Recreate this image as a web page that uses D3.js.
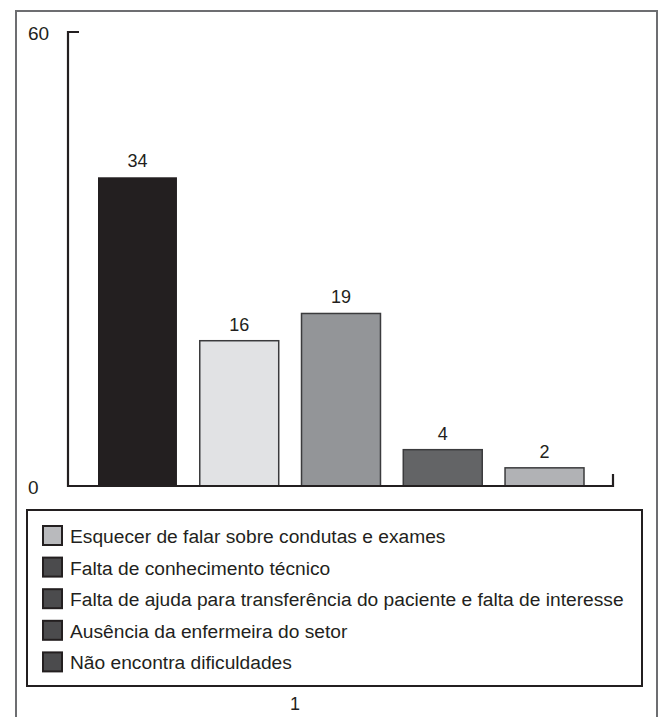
<!DOCTYPE html>
<html>
<head>
<meta charset="utf-8">
<script src="https://cdn.jsdelivr.net/npm/d3@7"></script>
<style>
  html, body { margin: 0; padding: 0; background: #fff; }
  svg { display: block; font-family: "Liberation Sans", Arial, Helvetica, sans-serif; }
</style>
</head>
<body>
<svg id="chart" width="660" height="717"></svg>
<script>
// Difficulties reported (counts)
const categories = [
  "Esquecer de falar sobre condutas e exames",
  "Falta de conhecimento técnico",
  "Falta de ajuda para transferência do paciente e falta de interesse",
  "Ausência da enfermeira do setor",
  "Não encontra dificuldades"
];
const values = [34, 16, 19, 4, 2];
const barColors = ["#231f20", "#e1e2e4", "#939598", "#636466", "#b1b2b5"];
const legendColors = ["#b9babd", "#4b4b4d", "#4b4b4d", "#4b4b4d", "#4b4b4d"];
const yTickLabels = ["0", "60"];
const xTickLabels = ["1"];
const axisMax = 50;

const svg = d3.select("#chart");
const ink = "#231f20";

// Outer frame (open at the bottom)
svg.append("path")
  .attr("d", "M16,717 V11 H657 V717")
  .attr("fill", "none")
  .attr("stroke", "#6d6e71")
  .attr("stroke-width", 2);

const x = d3.scaleBand()
  .domain(categories)
  .range([98, 584])
  .paddingInner(0.224)
  .paddingOuter(0);

const y = d3.scaleLinear()
  .domain([0, axisMax])
  .range([486, 32]);

// Bars
svg.append("g").selectAll("rect")
  .data(values)
  .join("rect")
  .attr("x", (d, i) => x(categories[i]))
  .attr("y", d => y(d))
  .attr("width", x.bandwidth())
  .attr("height", d => y(0) - y(d))
  .attr("fill", (d, i) => barColors[i])
  .attr("stroke", (d, i) => i === 0 ? "none" : "#3b3b3d")
  .attr("stroke-width", 1.5);

// Value labels
svg.append("g").selectAll("text")
  .data(values)
  .join("text")
  .attr("x", (d, i) => x(categories[i]) + x.bandwidth() / 2)
  .attr("y", d => y(d) - 10)
  .attr("text-anchor", "middle")
  .attr("font-size", 18)
  .attr("fill", ink)
  .text(d => d);

// Axes: vertical axis with inward top tick, baseline with upward end tick
const x0 = 68, x1 = 613;
svg.append("path")
  .attr("d", `M${x0 + 11},${y(axisMax)} H${x0} V${y(0)} H${x1} V${y(0) - 12}`)
  .attr("fill", "none")
  .attr("stroke", ink)
  .attr("stroke-width", 2.2);

svg.append("g").selectAll("text")
  .data(yTickLabels)
  .join("text")
  .attr("x", 28)
  .attr("y", (d, i) => (i === 0 ? y(0) : y(axisMax)) + 8)
  .attr("font-size", 19)
  .attr("fill", ink)
  .text(d => d);

// Legend
const legend = svg.append("g");
legend.append("rect")
  .attr("x", 27).attr("y", 510)
  .attr("width", 615).attr("height", 176)
  .attr("fill", "none")
  .attr("stroke", ink)
  .attr("stroke-width", 2);

const rows = legend.selectAll("g.row")
  .data(categories)
  .join("g")
  .attr("class", "row")
  .attr("transform", (d, i) => `translate(0, ${536 + i * 31.6})`);

rows.append("rect")
  .attr("x", 43).attr("y", -10)
  .attr("width", 19).attr("height", 19)
  .attr("fill", (d, i) => legendColors[i])
  .attr("stroke", ink)
  .attr("stroke-width", 2);

rows.append("text")
  .attr("x", 70).attr("y", 7)
  .attr("font-size", 19.2)
  .attr("fill", ink)
  .text(d => d);

// Category axis label
svg.append("g").selectAll("text")
  .data(xTickLabels)
  .join("text")
  .attr("x", 295).attr("y", 710)
  .attr("text-anchor", "middle")
  .attr("font-size", 18)
  .attr("fill", ink)
  .text(d => d);
</script>
</body>
</html>
